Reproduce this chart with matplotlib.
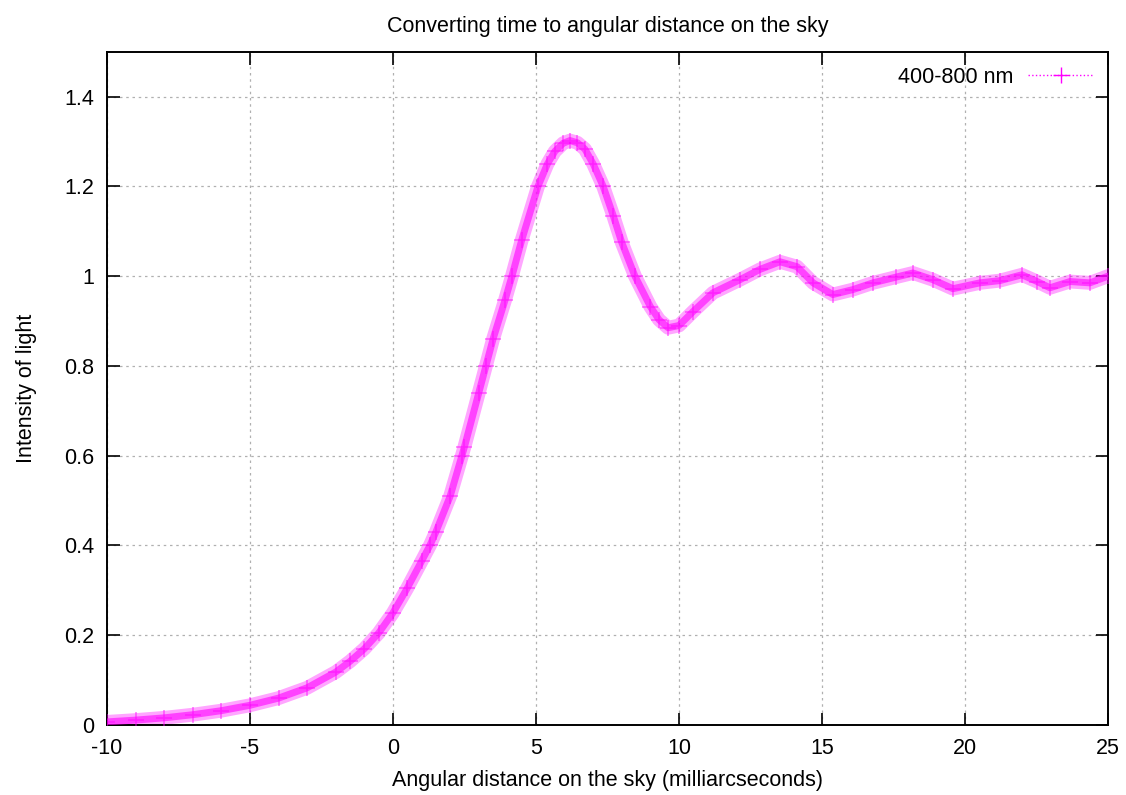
import matplotlib
matplotlib.use("Agg")
import matplotlib.pyplot as plt

plt.rcParams['font.family'] = ['Liberation Sans', 'DejaVu Sans']

# values
angle = [-10, -9, -8, -7, -6, -5, -4, -3, -2, -1.5, -1, -0.5, 0, 0.5, 1, 1.29,
         1.5, 2, 2.41, 2.5, 3, 3.25, 3.5, 3.92, 4.16, 4.5, 5.07, 5.4, 5.66, 5.95,
         6.19, 6.45, 6.71, 7, 7.35, 7.7, 8, 8.46, 9, 9.3, 9.62, 10, 10.49, 11.19,
         12.13, 12.83, 13.53, 14.13, 14.69, 15.38, 16.08, 16.78, 17.6, 18.18,
         18.88, 19.58, 20.52, 21.22, 21.99, 22.52, 22.97, 23.67, 24.37, 25]
intensity = [0.007, 0.011, 0.016, 0.023, 0.032, 0.044, 0.060, 0.083, 0.118, 0.142,
             0.170, 0.205, 0.25, 0.305, 0.365, 0.40, 0.43, 0.51, 0.60, 0.62, 0.74,
             0.80, 0.86, 0.947, 1.0, 1.08, 1.20, 1.25, 1.278, 1.296, 1.302, 1.297,
             1.283, 1.25, 1.20, 1.135, 1.075, 1.0, 0.932, 0.903, 0.885, 0.89,
             0.921, 0.963, 0.992, 1.015, 1.032, 1.021, 0.985, 0.959, 0.970, 0.985,
             0.998, 1.007, 0.992, 0.972, 0.985, 0.99, 1.003, 0.988, 0.974, 0.988,
             0.985, 1.0]
series_label = "400-800 nm"
xticks = [-10, -5, 0, 5, 10, 15, 20, 25]
yticks = [0, 0.2, 0.4, 0.6, 0.8, 1, 1.2, 1.4]
ytick_labels = ["0", "0.2", "0.4", "0.6", "0.8", "1", "1.2", "1.4"]

fig = plt.figure(figsize=(11.26, 7.95), dpi=100)
ax = fig.add_axes([0.095, 0.088, 0.889, 0.847])

magenta = "#ff00ff"
# thick translucent band to mimic the dense cloud of + markers
ax.plot(angle, intensity, color=magenta, lw=10, alpha=0.35,
        solid_capstyle="round", solid_joinstyle="round", zorder=2)
ax.plot(angle, intensity, color=magenta, lw=5, alpha=0.6,
        solid_capstyle="round", solid_joinstyle="round", zorder=3)
ax.plot(angle, intensity, color=magenta, ls="none", marker="+",
        markersize=12, markeredgewidth=1.2, alpha=0.5, zorder=4)

# legend sample
ax.plot([], [], color=magenta, ls=":", lw=1, marker="+", markersize=11,
        label=series_label)
ax.legend(loc="upper right", frameon=False, markerfirst=False, fontsize=15.5,
          handlelength=3.0, handletextpad=0.7, borderaxespad=0.3)

ax.set_xlim(-10, 25)
ax.set_ylim(0, 1.5)
ax.set_xticks(xticks)
ax.set_xticklabels([str(t) for t in xticks])
ax.set_yticks(yticks)
ax.set_yticklabels(ytick_labels)
ax.tick_params(direction="in", length=9, width=1.2, top=True, right=True,
               labelsize=15.5, pad=9)
ax.grid(True, color="#b0b0b0", ls=(0, (2, 3)), lw=0.9)
for s in ax.spines.values():
    s.set_linewidth(1.4)

ax.set_title("Converting time to angular distance on the sky", fontsize=15.5, pad=14)
ax.set_xlabel("Angular distance on the sky (milliarcseconds)", fontsize=15.5, labelpad=8)
ax.set_ylabel("Intensity of light", fontsize=15.5, labelpad=20)

fig.savefig("out.png", dpi=100)
